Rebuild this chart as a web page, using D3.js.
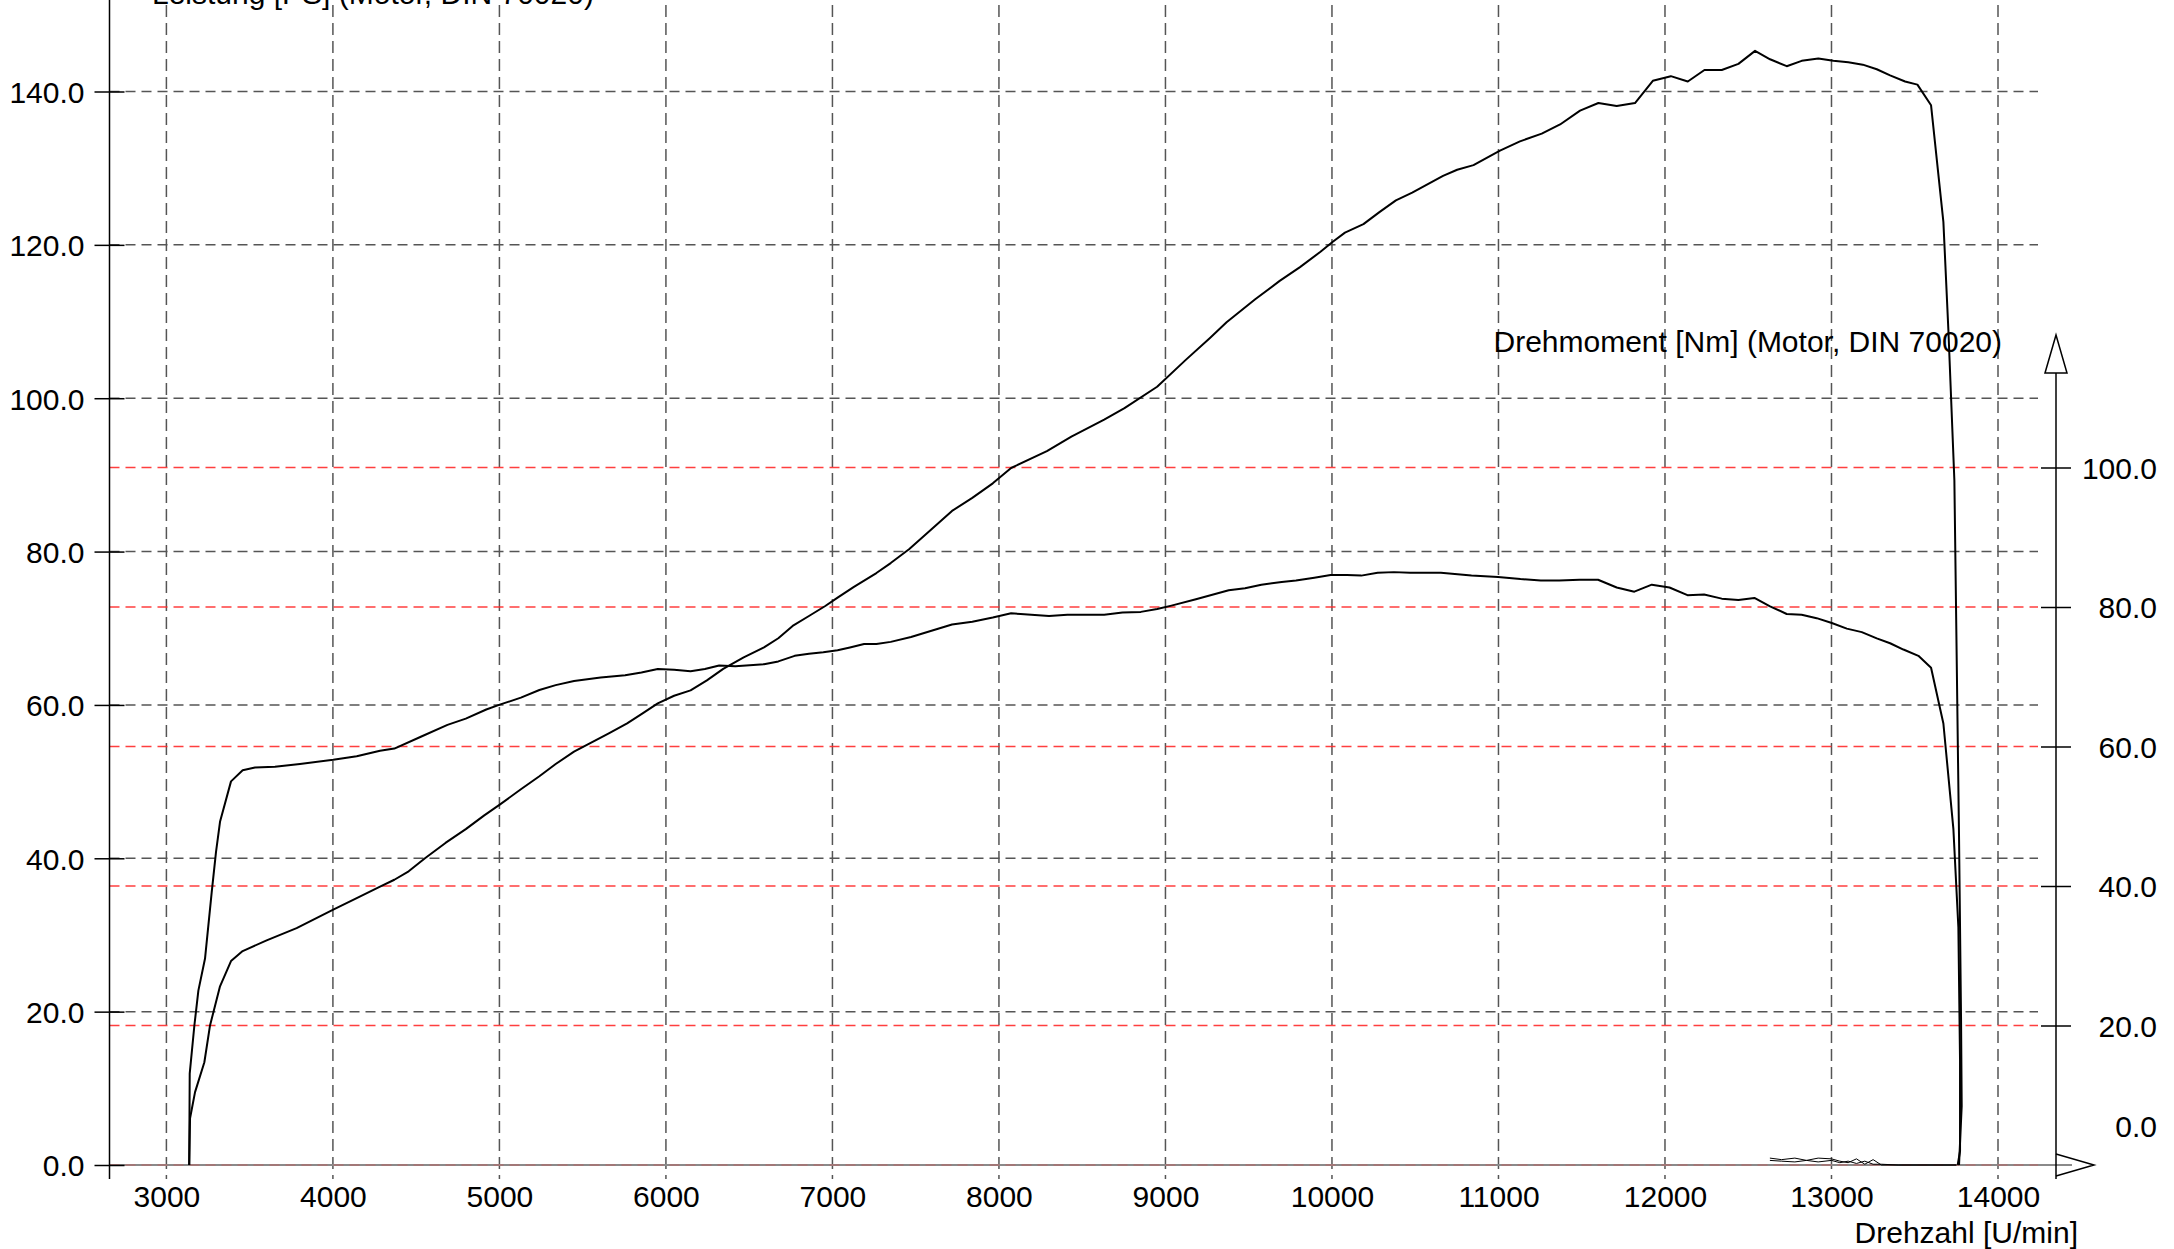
<!DOCTYPE html>
<html lang="de">
<head>
    <meta charset="UTF-8">
    <title>Leistung / Drehmoment</title>
    <style>
        html,body{
            margin:0;
            height:100%;
            overflow:hidden;
            background:#fff;
        }
        text{
            font-family:"Liberation Sans", Arial, Helvetica, sans-serif;
            font-size:30px;
            fill:#000;
        }
    </style>
</head>
<body>
    <svg id="svg"></svg>
    <script src="https://d3js.org/d3.v7.min.js"></script>
    <script>
        // [rpm, PS] - Leistung, linke Achse
        const power = [
            [3137,0],[3142,6.1],[3172,9.5],[3228,13.4],[3262,18.2],[3322,23.3],[3388,26.6],[3458,27.9],
            [3602,29.3],[3782,30.9],[4002,33.3],[4143,34.8],[4283,36.3],[4369,37.2],[4455,38.3],[4553,40.0],
            [4676,42.0],[4798,43.8],[4909,45.6],[5002,47.0],[5129,49.0],[5240,50.7],[5338,52.3],[5448,53.9],
            [5534,54.9],[5657,56.3],[5767,57.6],[5853,58.8],[5951,60.2],[6049,61.2],[6148,61.9],[6246,63.2],
            [6344,64.7],[6467,66.2],[6589,67.5],[6675,68.7],[6761,70.3],[6859,71.6],[6957,72.9],[7031,74.0],
            [7129,75.4],[7264,77.2],[7350,78.5],[7460,80.3],[7595,82.9],[7718,85.3],[7840,87.0],[7963,88.9],
            [8073,90.9],[8288,93.1],[8435,95.0],[8632,97.2],[8754,98.7],[8950,101.5],[9122,105.0],[9269,107.9],
            [9367,109.9],[9539,112.9],[9686,115.3],[9808,117.1],[9931,119.1],[10005,120.4],[10078,121.6],
            [10189,122.7],[10287,124.3],[10384,125.8],[10482,126.8],[10667,129.0],[10752,129.8],[10850,130.4],
            [11009,132.3],[11129,133.5],[11260,134.5],[11370,135.7],[11490,137.5],[11600,138.5],[11710,138.1],
            [11820,138.5],[11927,141.4],[12035,142.0],[12137,141.3],[12237,142.8],[12341,142.8],[12441,143.6],
            [12541,145.3],[12631,144.2],[12731,143.3],[12821,144.0],[12921,144.3],[13011,144.0],[13101,143.8],
            [13188,143.5],[13272,142.9],[13352,142.1],[13442,141.3],[13516,140.9],[13598,138.2],[13672,123.0],
            [13702,108.9],[13738,89.3],[13752,66.0],[13766,42.7],[13778,19.3],[13782,7.7],[13766,0]
        ];
        // [rpm, Nm] - Drehmoment, rechte Achse
        const torque = [
            [3137,0],[3140,13.1],[3168,20.0],[3192,25.0],[3232,29.6],[3272,39.1],[3298,44.9],[3322,49.2],
            [3388,55.0],[3458,56.6],[3532,57.0],[3652,57.1],[3802,57.5],[4002,58.1],[4143,58.6],[4283,59.4],
            [4369,59.7],[4528,61.4],[4688,63.1],[4798,64.0],[4921,65.3],[5002,66.0],[5129,67.0],[5240,68.1],
            [5338,68.8],[5448,69.4],[5608,69.9],[5755,70.2],[5853,70.6],[5951,71.1],[6049,71.0],[6148,70.8],
            [6234,71.1],[6320,71.6],[6417,71.5],[6589,71.8],[6675,72.2],[6773,73.0],[6859,73.3],[6945,73.5],
            [7031,73.8],[7105,74.2],[7190,74.7],[7264,74.7],[7350,75.0],[7472,75.7],[7595,76.6],[7718,77.5],
            [7840,77.9],[7963,78.5],[8073,79.1],[8130,79.0],[8301,78.7],[8411,78.9],[8632,78.9],[8742,79.2],
            [8852,79.3],[8950,79.7],[9036,80.2],[9183,81.1],[9380,82.4],[9478,82.7],[9576,83.2],[9698,83.6],
            [9784,83.8],[9894,84.2],[9992,84.6],[10090,84.6],[10176,84.5],[10274,84.9],[10372,85.0],[10470,84.9],
            [10654,84.9],[10838,84.5],[10997,84.3],[11132,84.0],[11254,83.8],[11365,83.8],[11487,83.9],
            [11598,83.9],[11710,82.8],[11816,82.2],[11921,83.2],[12027,82.8],[12135,81.7],[12235,81.8],
            [12341,81.2],[12441,81.0],[12537,81.3],[12631,80.1],[12731,79.0],[12821,78.9],[12911,78.4],
            [13002,77.7],[13092,76.9],[13182,76.4],[13272,75.5],[13352,74.8],[13432,73.9],[13522,73.0],
            [13598,71.3],[13672,63.3],[13732,48.2],[13762,34.1],[13772,14.9],[13772,2.0],[13758,0]
        ];
        // Schleppverluste am Ende des Laufs (PS)
        const lossA = [
            [12630,0.9],[12700,0.7],[12780,0.9],[12850,0.6],[12920,0.9],[13000,0.8],[13050,0.5],[13100,0.3],
            [13150,0.8],[13200,0.1],[13250,0.7],[13300,0.0],[13400,0.0],[13750,0.0]
        ];
        const lossB = [
            [12630,0.6],[12700,0.5],[12780,0.4],[12850,0.6],[12920,0.4],[13000,0.6],[13050,0.3],[13100,0.5],
            [13150,0.2],[13200,0.5],[13250,0.1],[13300,0.1],[13400,0.0],[13750,0.0]
        ];

        const xTicks = [3000,4000,5000,6000,7000,8000,9000,10000,11000,12000,13000,14000];
        const leftTicks = [0,20,40,60,80,100,120,140];
        const rightTicks = [20,40,60,80,100];
        const topTitle = 'Leistung [PS] (Motor, DIN 70020)';
        const rightTitle = 'Drehmoment [Nm] (Motor, DIN 70020)';
        const xTitle = 'Drehzahl [U/min]';

        const width = 2174, height = 1249;
        const svg = d3.select('#svg').attr('width', width).attr('height', height);

        const axisLeftX = 109.5, axisRightX = 2056, gridRight = 2038, axisBottom = 1179;

        const x = d3.scaleLinear().domain([3000, 14000]).range([166.4, 1998]);
        const yL = d3.scaleLinear().domain([0, 140]).range([1165, 91.5]);
        const yR = d3.scaleLinear().domain([0, 100]).range([1165, 467.5]);

        const grid = svg.append('g');
        // vertical grid
        grid.selectAll('.vg').data(xTicks).join('line')
            .attr('x1', d => x(d)).attr('x2', d => x(d))
            .attr('y1', 5).attr('y2', axisBottom)
            .attr('stroke', '#555').attr('stroke-width', 1.5)
            .attr('stroke-dasharray', '12,6');
        // baseline
        grid.append('line')
            .attr('x1', axisLeftX).attr('x2', 2072)
            .attr('y1', yL(0)).attr('y2', yL(0))
            .attr('stroke', '#8a8a8a').attr('stroke-width', 2);
        // horizontal grid, left axis
        grid.selectAll('.hg').data(leftTicks.filter(d => d > 0)).join('line')
            .attr('x1', axisLeftX).attr('x2', gridRight)
            .attr('y1', d => yL(d)).attr('y2', d => yL(d))
            .attr('stroke', '#555').attr('stroke-width', 1.5)
            .attr('stroke-dasharray', '10,6');
        // red grid, right axis
        grid.selectAll('.rg').data([0].concat(rightTicks)).join('line')
            .attr('x1', axisLeftX).attr('x2', gridRight)
            .attr('y1', d => yR(d)).attr('y2', d => yR(d))
            .attr('stroke', d => d === 0 ? '#c06060' : '#ff2a2a')
            .attr('stroke-opacity', d => d === 0 ? 0.6 : 0.9)
            .attr('stroke-width', 1.5)
            .attr('stroke-dasharray', '10,6');

        // left axis
        svg.append('line')
            .attr('x1', axisLeftX).attr('x2', axisLeftX).attr('y1', 0).attr('y2', axisBottom)
            .attr('stroke', '#000').attr('stroke-width', 1.5);
        const gl = svg.append('g')
            .attr('transform', `translate(${axisLeftX},0)`)
            .call(d3.axisLeft(yL).tickValues(leftTicks).tickFormat(d3.format('.1f')).tickSize(15).tickPadding(10));
        gl.select('.domain').remove();
        gl.selectAll('.tick line').attr('stroke', '#000').attr('stroke-width', 1.5);
        gl.selectAll('.tick').append('line').attr('x1', 0).attr('x2', 15).attr('stroke', '#000').attr('stroke-width', 1.5);
        gl.selectAll('.tick text').attr('dy', '0.36em').style('font-size', '30px').style('font-family', null);

        // right axis
        svg.append('line')
            .attr('x1', axisRightX).attr('x2', axisRightX).attr('y1', 372).attr('y2', axisBottom)
            .attr('stroke', '#000').attr('stroke-width', 1.5);
        svg.append('polygon')
            .attr('points', [[axisRightX - 11, 373], [axisRightX, 335], [axisRightX + 11, 373]].join(' '))
            .attr('fill', '#fff').attr('stroke', '#000').attr('stroke-width', 1.5);
        const gr = svg.append('g')
            .attr('transform', `translate(${axisRightX},0)`)
            .call(d3.axisRight(yR).tickValues(rightTicks).tickFormat(d3.format('.1f')).tickSize(15).tickPadding(10));
        gr.select('.domain').remove();
        gr.selectAll('.tick line').attr('stroke', '#000').attr('stroke-width', 1.5);
        gr.selectAll('.tick').append('line').attr('x1', -15).attr('x2', 0).attr('stroke', '#000').attr('stroke-width', 1.5);
        gr.selectAll('.tick text').attr('x', 101).attr('text-anchor', 'end').attr('dy', '0.36em')
            .style('font-size', '30px').style('font-family', null);
        svg.append('text').attr('x', axisRightX + 101).attr('y', yR(0) - 28)
            .attr('text-anchor', 'end').text(d3.format('.1f')(0));

        // x arrow
        svg.append('polyline')
            .attr('points', [[axisRightX, 1154], [2094, yL(0)], [axisRightX, 1176]].join(' '))
            .attr('fill', 'none').attr('stroke', '#000').attr('stroke-width', 1.5);

        // x axis labels
        const gx = svg.append('g')
            .attr('transform', `translate(0,${yL(0)})`)
            .call(d3.axisBottom(x).tickValues(xTicks).tickFormat(d3.format('d')).tickSize(0).tickPadding(21));
        gx.select('.domain').remove();
        gx.selectAll('.tick text').style('font-size', '30px').style('font-family', null);

        // titles (top one runs off the upper edge, as in the original)
        svg.append('text').attr('x', 152).attr('y', 4).text(topTitle);
        svg.append('text').attr('x', 2002).attr('y', 352).attr('text-anchor', 'end').text(rightTitle);
        svg.append('text').attr('x', 2078).attr('y', 1243).attr('text-anchor', 'end').text(xTitle);

        // curves
        const lineL = d3.line().x(d => x(d[0])).y(d => yL(d[1]));
        const lineR = d3.line().x(d => x(d[0])).y(d => yR(d[1]));

        svg.append('path').datum(lossA).attr('d', lineL)
            .attr('fill', 'none').attr('stroke', '#000').attr('stroke-width', 1);
        svg.append('path').datum(lossB).attr('d', lineL)
            .attr('fill', 'none').attr('stroke', '#000').attr('stroke-width', 1);

        svg.append('path').datum(torque).attr('d', lineR)
            .attr('fill', 'none').attr('stroke', '#000').attr('stroke-width', 2)
            .attr('stroke-linejoin', 'round');
        svg.append('path').datum(power).attr('d', lineL)
            .attr('fill', 'none').attr('stroke', '#000').attr('stroke-width', 2)
            .attr('stroke-linejoin', 'round');
    </script>
</body>
</html>
